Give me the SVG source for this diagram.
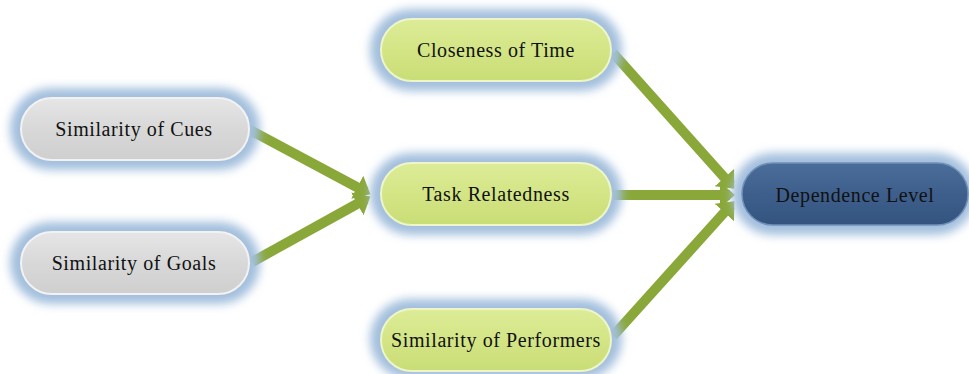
<svg xmlns="http://www.w3.org/2000/svg" width="969" height="374" viewBox="0 0 969 374">
<style>
.lbl{font-family:"Liberation Serif","Times New Roman",serif;font-size:20px;letter-spacing:0.6px;fill:#111;text-anchor:middle;dominant-baseline:central}
.glow{fill:#a3bfdd;filter:url(#blur)}
.grey{fill:url(#gGrey);stroke:#f2f2f2;stroke-width:2}
.green{fill:url(#gGreen);stroke:#eef5c8;stroke-width:2}
.blue{fill:url(#gBlue);stroke:#6f8fb8;stroke-width:1.5}
.conn{stroke:#8aa83a;stroke-width:10;fill:none}
</style>
<defs>
<filter id="blur" x="-20%" y="-50%" width="140%" height="200%"><feGaussianBlur stdDeviation="5"/></filter>
<linearGradient id="gGrey" x1="0" y1="0" x2="0" y2="1"><stop offset="0" stop-color="#e6e6e6"/><stop offset="0.5" stop-color="#d8d8d8"/><stop offset="1" stop-color="#cfcfcf"/></linearGradient>
<linearGradient id="gGreen" x1="0" y1="0" x2="0" y2="1"><stop offset="0" stop-color="#dcec98"/><stop offset="0.5" stop-color="#d3e585"/><stop offset="1" stop-color="#c9dd76"/></linearGradient>
<linearGradient id="gBlue" x1="0" y1="0" x2="0" y2="1"><stop offset="0" stop-color="#4b6d99"/><stop offset="0.5" stop-color="#3e5f8c"/><stop offset="1" stop-color="#34547f"/></linearGradient>
<marker id="ah" markerWidth="3" markerHeight="3" refX="1" refY="1.5" orient="auto" markerUnits="strokeWidth"><path d="M0,0.2 L1.5,1.5 L0,2.8 Z" fill="#8aa83a"/></marker>
</defs>
<g id="connectors">
<line class="conn" x1="250" y1="130" x2="366" y2="192" marker-end="url(#ah)"/>
<line class="conn" x1="252" y1="262" x2="366" y2="199" marker-end="url(#ah)"/>
<line class="conn" x1="613" y1="53" x2="731" y2="185" marker-end="url(#ah)"/>
<line class="conn" x1="613" y1="195" x2="730" y2="195" marker-end="url(#ah)"/>
<line class="conn" x1="613" y1="336" x2="731" y2="205" marker-end="url(#ah)"/>
</g>
<g id="similarity-of-cues">
<rect class="glow" x="10" y="88" width="250" height="82" rx="41"/>
<rect class="grey" x="21" y="98" width="228" height="62" rx="31"/>
<text class="lbl" x="134" y="129">Similarity of Cues</text>
</g>
<g id="similarity-of-goals">
<rect class="glow" x="10" y="222" width="250" height="82" rx="41"/>
<rect class="grey" x="21" y="232" width="228" height="62" rx="31"/>
<text class="lbl" x="134" y="263">Similarity of Goals</text>
</g>
<g id="closeness-of-time">
<rect class="glow" x="370" y="9" width="252" height="82" rx="41"/>
<rect class="green" x="381" y="19" width="230" height="62" rx="31"/>
<text class="lbl" x="496" y="50">Closeness of Time</text>
</g>
<g id="task-relatedness">
<rect class="glow" x="370" y="153" width="252" height="82" rx="41"/>
<rect class="green" x="381" y="163" width="230" height="62" rx="31"/>
<text class="lbl" x="496" y="194">Task Relatedness</text>
</g>
<g id="similarity-of-performers">
<rect class="glow" x="370" y="299" width="252" height="80" rx="40"/>
<rect class="green" x="381" y="309" width="230" height="62" rx="31"/>
<text class="lbl" x="496" y="340">Similarity of Performers</text>
</g>
<g id="dependence-level">
<rect class="glow" x="732" y="153" width="244" height="82" rx="41"/>
<rect class="blue" x="742" y="163" width="226" height="62" rx="31"/>
<text class="lbl" x="855" y="195">Dependence Level</text>
</g>
</svg>
